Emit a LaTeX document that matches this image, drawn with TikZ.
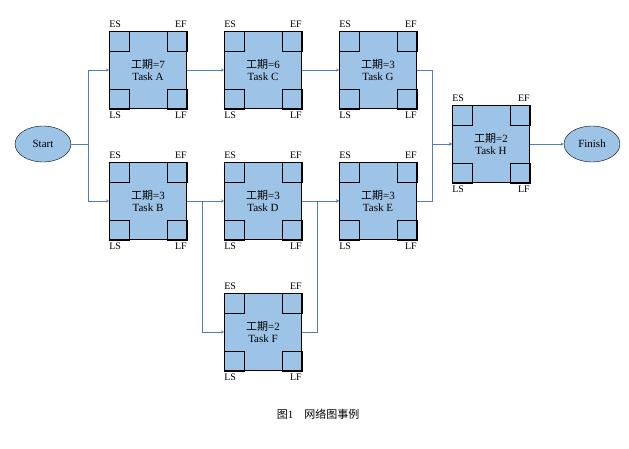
\documentclass[tikz,border=0pt]{standalone}
\usepackage{fontspec}
\setmainfont{Liberation Serif}
\newfontfamily\cjk{Noto Sans CJK SC}
\usetikzlibrary{arrows,shapes.geometric,positioning}
\definecolor{boxfill}{HTML}{9DC3E6}
\definecolor{linkblue}{HTML}{4F7FB5}

\newcommand{\taskbox}[4]{%
\node [task] (#1) at (#2) {{\cjk 工期}=#3\\Task #4};
\draw (#1.north west) rectangle ++(20,20);
\draw (#1.north east) rectangle ++(-20,20);
\draw (#1.south west) rectangle ++(20,-20);
\draw (#1.south east) rectangle ++(-20,-20);
\node [tag, above right=2pt and -1pt of #1.north west] {ES};
\node [tag, above left=2pt and -1pt of #1.north east] {EF};
\node [tag, below right=2pt and -1pt of #1.south west] {LS};
\node [tag, below left=2pt and -1pt of #1.south east] {LF};
}

\begin{document}
\begin{tikzpicture}[x=1pt,y=-1pt,font=\fontsize{11}{12.5}\selectfont]
\tikzstyle{task} = [rectangle, draw=black, thick, fill=boxfill,
minimum width=77pt, minimum height=77pt, align=center, inner sep=0pt]
\tikzstyle{tag} = [inner sep=1pt, font=\fontsize{10}{11}\selectfont]
\tikzstyle{cloud} = [ellipse, draw=black, fill=boxfill,
minimum width=56pt, minimum height=36pt, inner sep=0pt]
\tikzstyle{line} = [draw, color=linkblue, ->, >=stealth];
\useasboundingbox (0,0) rectangle (629,449);

\node [cloud] (start) at (43,144) {Start};
\node [cloud] (finish) at (592,144) {Finish};
\taskbox{a}{148,70}{7}{A}
\taskbox{c}{263,70}{6}{C}
\taskbox{g}{378,70}{3}{G}
\taskbox{b}{148,201}{3}{B}
\taskbox{d}{263,201}{3}{D}
\taskbox{e}{378,201}{3}{E}
\taskbox{f}{263,332}{2}{F}
\taskbox{h}{491,144}{2}{H}
\node at (318,414) {{\cjk 图}1\quad{\cjk 网络图事例}};

\tikzstyle{every path}=[line]
\path (start.east) -- ++(17,0) |- (a.west);
\path (start.east) -- ++(17,0) |- (b.west);
\path (a) -- (c);
\path (c) -- (g);
\path (g.east) -- ++(15,0) |- (h.west);
\path (e.east) -- ++(15,0) |- (h.west);
\path (b) -- (d);
\path (b.east) -- ++(15,0) |- (f.west);
\path (d) -- (e);
\path (f.east) -- ++(15,0) |- (e.west);
\path (h) -- (finish);
\end{tikzpicture}
\end{document}
